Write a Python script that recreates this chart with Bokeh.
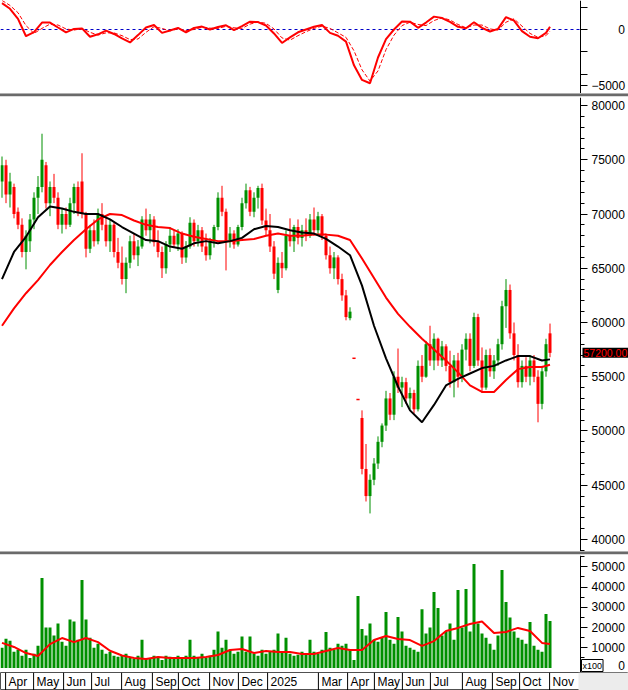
import numpy as np
from bokeh.plotting import figure
from bokeh.layouts import column
from bokeh.models import (Range1d, FixedTicker, Span, Div, Label, ColumnDataSource,
                          BoxAnnotation)
from bokeh.core.properties import value
from bokeh.embed import file_html
from bokeh.resources import INLINE

# ---------------- data ----------------
open_ = [73000, 74500, 71800, 72500, 70200, 69000, 66500, 67500, 69500, 71500,
         72500, 74500, 71000, 72500, 71500, 69000, 70000, 69000, 71000, 72500,
         73000, 70000, 66800, 68500, 67500, 70000, 69000, 67500, 69000, 66500,
         65500, 64000, 65500, 67500, 66200, 67000, 69500, 68500, 69500, 67400,
         66500, 65000, 67200, 68000, 67200, 68200, 66000, 67000, 69200, 67500,
         68500, 67000, 66200, 67500, 68800, 71500, 70200, 67500, 68200, 67200,
         68800, 71000, 72200, 70200, 71500, 72400, 69400, 68500, 67000, 63000,
         65500, 65000, 68000, 67500, 68800, 67800, 68500, 68000, 69500, 68500,
         69800, 68000, 66200, 65000, 66000, 64000, 62500, 60400, 56700, 52900,
         51200, 46500, 44000, 45500, 47000, 49000, 50500, 53000, 51500, 55000,
         54000, 54500, 53000, 53500, 52000, 56000, 55000, 58000, 56500, 58500,
         56500, 57800, 56000, 54500, 56500, 55000, 57500, 58500, 56000, 60500,
         56500, 54000, 57000, 55500, 56500, 58000, 61500, 63000, 59000, 57000,
         54500, 56000, 55000, 56500, 55000, 52500, 55500, 59000]
high = [75300, 75000, 73800, 72800, 70600, 69600, 68500, 70000, 72000, 73500,
        77400, 74800, 73000, 73700, 72000, 70500, 70600, 71500, 72800, 73000,
        75600, 70200, 69000, 69500, 70500, 71000, 69800, 69500, 69200, 67800,
        67000, 66000, 68000, 68200, 67600, 69800, 70500, 70000, 69800, 68500,
        67000, 67500, 68800, 68500, 68600, 68400, 67500, 69700, 69500, 69000,
        68800, 68200, 67800, 69000, 72000, 72600, 70500, 68800, 68500, 69000,
        71500, 72800, 72500, 72000, 72600, 72800, 70500, 70000, 67500, 66000,
        66500, 68500, 69600, 69000, 69500, 69000, 69600, 70000, 70600, 70200,
        70000, 68200, 67000, 66500, 66200, 64500, 63000, 61400, 56700, 52900,
        51900, 48800, 46000, 47500, 49500, 50700, 53700, 53500, 55500, 57600,
        55000, 54900, 54000, 53800, 56500, 57000, 58300, 59700, 59000, 58600,
        58300, 58000, 57400, 57000, 57200, 58000, 59000, 59000, 60900, 60800,
        57700, 57500, 57600, 57000, 58500, 62000, 64000, 63500, 60000, 58000,
        56500, 56800, 57000, 57000, 55600, 56000, 58500, 59900]
low = [71500, 71000, 70600, 69600, 68600, 66000, 64900, 66500, 68600, 70000,
       72000, 70500, 69800, 71000, 68600, 68200, 68600, 68800, 70000, 69800,
       69600, 66000, 66400, 67000, 67200, 68500, 67000, 66500, 66000, 65000,
       63500, 62700, 65000, 65800, 65200, 66800, 68000, 67300, 67000, 66000,
       64100, 64500, 66500, 66900, 66600, 65400, 65500, 66800, 67000, 67000,
       66500, 65700, 65800, 66900, 68500, 69800, 64800, 66900, 66800, 67000,
       68500, 70500, 69800, 69700, 70500, 69000, 68000, 66500, 64000, 62700,
       64100, 64800, 67000, 66500, 67200, 67000, 67500, 67800, 68000, 68000,
       67600, 65800, 64500, 64000, 63500, 62000, 60200, 60200, 56700, 52900,
       46000, 43500, 42400, 45000, 46500, 48500, 50000, 51000, 51000, 53500,
       52200, 52500, 52000, 51600, 51800, 54500, 54900, 56000, 55600, 56000,
       55900, 55500, 54000, 53100, 54000, 54500, 56500, 55500, 55800, 56000,
       53500, 53800, 55000, 54800, 56000, 57500, 59500, 58500, 56500, 54000,
       54000, 54500, 54200, 54500, 50800, 52000, 55000, 56800]
close_ = [74500, 71800, 73000, 70000, 69000, 66500, 68000, 69500, 71500, 72500,
          75000, 71000, 72500, 71500, 69000, 70000, 69000, 71000, 72500, 70200,
          70000, 66800, 68500, 67500, 70000, 69000, 67500, 69000, 66500, 65500,
          64000, 65500, 67500, 66200, 67000, 69500, 68500, 69500, 67400, 66500,
          65000, 67200, 68000, 67200, 68200, 66000, 67000, 69200, 67500, 68500,
          67000, 66200, 67500, 68800, 71500, 70200, 67500, 68200, 67200, 68800,
          71000, 72200, 70200, 71500, 72400, 69400, 68500, 67000, 64500, 65500,
          65000, 68000, 67500, 68800, 67800, 68500, 68000, 69500, 68500, 69800,
          68000, 66200, 65000, 66000, 64000, 62500, 60500, 61000, 56700, 52900,
          46500, 44000, 45500, 47000, 49000, 50500, 53000, 51500, 55000, 54000,
          54500, 53000, 53500, 52000, 56000, 55000, 58000, 56500, 58500, 56500,
          57800, 56000, 54500, 56500, 55000, 57500, 58500, 56000, 60500, 56500,
          54000, 57000, 55500, 56500, 58000, 61500, 63000, 59000, 57000, 54500,
          56000, 55000, 56500, 55000, 52500, 55500, 58000, 57200]
volume = [10000, 14500, 13500, 8000, 9000, 6000, 9000, 5000, 7000, 11000,
          44500, 20000, 20000, 16000, 22000, 13000, 11000, 24000, 23000, 14000,
          43500, 24000, 15000, 10000, 12000, 9000, 7000, 8000, 6000, 5500,
          6000, 7000, 5000, 4500, 6000, 14000, 4500, 5000, 6000, 5500,
          4000, 6000, 5500, 4500, 6000, 5000, 6000, 14000, 6000, 5000,
          7000, 5000, 6000, 9000, 18000, 10000, 14000, 9000, 7000, 8000,
          15500, 8000, 15500, 7000, 6000, 9000, 7000, 8000, 9000, 17000,
          8000, 15000, 7000, 6000, 6500, 8000, 7000, 14000, 8000, 7000,
          9000, 17800, 10000, 9000, 12000, 11000, 12000, 9000, 4000, 35600,
          19300, 16000, 22000, 14000, 13000, 15000, 27700, 14000, 12000, 25200,
          18000, 11000, 10000, 9000, 8000, 29000, 17000, 20000, 37500, 29600,
          16000, 18000, 22000, 14000, 38500, 20000, 39000, 18000, 51400, 22000,
          17000, 15000, 12000, 9000, 16000, 48400, 32600, 25000, 18000, 15000,
          14000, 12000, 22700, 11000, 9000, 8000, 26700, 23200]

# moving averages, sampled every third bar (and the last bar)
ma_idx = list(range(0, 136, 3)) + [137]
ma_fast = [64000, 66500, 67900, 69700, 70700, 70500, 70200, 70000, 70000, 69500,
           68800, 68200, 67600, 67500, 67000, 66800, 67300, 67500, 67300, 67500,
           67800, 68600, 68900, 68800, 68500, 68300, 68200, 67700, 67000, 66200,
           63400, 59700, 56700, 54100, 51900, 50800, 52400, 54200, 54800, 55300,
           55800, 56000, 56500, 56900, 56900, 56500, 56600]
ma_slow = [59700, 61300, 62700, 63900, 65300, 66500, 67600, 68600, 69500, 70000,
           69900, 69400, 69000, 68800, 68700, 68200, 67900, 67700, 67500, 67500,
           67600, 67700, 68000, 68200, 68000, 68000, 68100, 68100, 68000, 67600,
           65900, 64100, 62300, 60800, 59600, 58500, 57500, 56500, 55400, 54200,
           53600, 53600, 54700, 55700, 55900, 55900, 56100]
vol_ma = [12400, 10400, 7400, 5900, 11800, 14800, 12800, 14800, 12800, 8500,
          6200, 4900, 4400, 5400, 4900, 4900, 4900, 5400, 6400, 8900,
          9400, 7400, 8400, 7900, 7900, 6900, 6900, 8400, 9900, 8900,
          8900, 13800, 15800, 14300, 13800, 10900, 13300, 18300, 19800, 21700,
          23000, 17300, 17800, 19800, 18300, 12400, 11900]

# oscillator (top panel), sampled every second bar (and the last bar)
osc_idx = list(range(0, 137, 2)) + [137]
osc = [2350, 1850, 950, -600, -230, 620, 620, 180, -250, 50,
       100, -650, -430, -100, -400, -800, -1150, -500, 180, 400,
       -300, -90, 150, -250, 140, 260, 0, 220, 380, -50,
       310, 700, 660, 360, -350, -1200, -700, -250, 0, 240,
       400, -300, -560, -1080, -3200, -4500, -4800, -2500, -850, 0,
       710, 700, 150, 620, 1150, 1020, 680, 240, 110, 650,
       140, -180, 60, 1100, 800, -150, -650, -780, -300, 250]
osc_signal = [2600, 2150, 1500, 350, -350, 100, 480, 400, 50, -50,
              80, -250, -500, -300, -300, -550, -900, -850, -250, 250,
              100, -120, 50, -100, 0, 200, 120, 100, 280, 150,
              100, 480, 680, 550, 50, -750, -950, -550, -200, 100,
              300, 100, -300, -700, -1900, -3600, -4600, -3700, -1800, -500,
              350, 650, 450, 350, 800, 1050, 850, 450, 150, 400,
              400, 50, -50, 650, 950, 300, -350, -700, -550, -150]

month_labels = ["Apr", "May", "Jun", "Jul", "Aug", "Sep", "Oct", "Nov", "Dec", "2025",
                "Mar", "Apr", "May", "Jun", "Jul", "Aug", "Sep", "Oct", "Nov"]
month_start = [0.9, 7.9, 15.4, 22.4, 29.9, 37.6, 44.1, 51.9, 59.1, 66.4,
               79.1, 86.4, 93.1, 100.1, 107.1, 115.1, 122.6, 129.4, 136.9]

price_ticks = list(range(40000, 80001, 5000))
price_minor = list(range(39000, 81000, 1000))
osc_ticks = [2000, 0, -2000, -4000, -5000]
vol_ticks = list(range(0, 50001, 10000))
vol_minor = list(range(0, 55001, 5000))

# ---------------- styling ----------------
GREEN = "#009000"
RED = "#ff0000"
FONT = "Liberation Sans"
TOTAL_W = 628
PLOT_W = 580          # width of the drawing area left of the value axis
PX_PER_BAR = 4.0
X0 = -0.375
AXIS_X = X0 + PLOT_W / PX_PER_BAR

xr = Range1d(X0, X0 + TOTAL_W / PX_PER_BAR)


def make_fig(h, yr, axis=True):
    p = figure(frame_width=TOTAL_W, frame_height=h, x_range=xr, y_range=yr,
               toolbar_location=None, output_backend="svg",
               x_axis_location=None, y_axis_location=("right" if axis else None),
               min_border_left=0, min_border_right=0,
               min_border_top=0, min_border_bottom=0)
    p.grid.visible = False
    p.outline_line_color = None
    p.background_fill_color = "white"
    p.border_fill_color = "white"
    if axis:
        ax = p.yaxis[0]
        ax.fixed_location = AXIS_X
        ax.axis_line_color = "black"
        ax.major_tick_line_color = "black"
        ax.minor_tick_line_color = "black"
        ax.major_tick_in = 0
        ax.major_tick_out = 7
        ax.minor_tick_in = 0
        ax.minor_tick_out = 4
        ax.major_label_standoff = 4
        ax.major_label_text_font = FONT
        ax.major_label_text_font_size = "12px"
        ax.major_label_text_color = "black"
    return p


def sep():
    return Div(text="", width=TOTAL_W, height=4, margin=(0, 0, 0, 0),
               styles={"background": "linear-gradient(to bottom, #b0b0b0 0px, #b0b0b0 1px, "
                                     "#6a6a6a 1px, #6a6a6a 3px, #dcdcdc 3px, #dcdcdc 4px)"})


# ---------------- oscillator panel ----------------
op = make_fig(93, Range1d(-5714, 2590))
op.yaxis[0].ticker = FixedTicker(ticks=osc_ticks, minor_ticks=[])
op.yaxis[0].major_label_overrides = {2000: "", -2000: "", -4000: "",
                                     0: "\u2007\u2007\u2007\u20070"}
op.segment(x0=[X0], y0=[0], x1=[AXIS_X], y1=[0], line_color="#0000c8",
           line_dash="3 3", line_width=1)
op.line(osc_idx, osc_signal, line_color=RED, line_width=1, line_dash="4 2")
op.line(osc_idx, osc, line_color=RED, line_width=2)

# ---------------- price panel ----------------
pp = make_fig(454, Range1d(38890, 80740))
pp.yaxis[0].ticker = FixedTicker(ticks=price_ticks, minor_ticks=price_minor)

o = np.array(open_, dtype=float)
h = np.array(high, dtype=float)
l = np.array(low, dtype=float)
c = np.array(close_, dtype=float)
idx = np.arange(len(c))
doji = o == c
colors = np.where((c > o), GREEN, RED)
src = ColumnDataSource(dict(x=idx, h=h, l=l, top=np.maximum(o, c), bot=np.minimum(o, c),
                            color=colors))
pp.segment(x0="x", y0="l", x1="x", y1="h", line_color="color", line_width=1, source=src)
pp.vbar(x="x", width=0.75, top="top", bottom="bot", fill_color="color",
        line_color=None, source=src)
pp.segment(x0=idx[doji] - 0.4, y0=c[doji], x1=idx[doji] + 0.4, y1=c[doji],
           line_color=RED, line_width=1.5)
pp.line(ma_idx, ma_slow, line_color=RED, line_width=2)
pp.line(ma_idx, ma_fast, line_color="black", line_width=2)
pp.add_layout(Label(x=AXIS_X, x_offset=2, y=close_[-1],
                    text=f"{close_[-1]:.2f}", text_color=RED, text_font=FONT,
                    text_font_size="10.5px", text_baseline="middle",
                    background_fill_color="black", padding=1))

# ---------------- volume panel ----------------
vp = make_fig(117, Range1d(-2223, 55575))
vp.yaxis[0].ticker = FixedTicker(ticks=vol_ticks, minor_ticks=vol_minor)
vp.yaxis[0].major_label_overrides = {0: "\u2007\u2007\u2007\u20070"}
vp.vbar(x=idx, width=0.75, top=volume, bottom=0, fill_color=GREEN, line_color=None)
vp.line(ma_idx, vol_ma, line_color=RED, line_width=2)
vp.add_layout(Label(x=AXIS_X, x_offset=1, y=1, y_units="screen", text="x100",
                    text_font=FONT, text_font_size="9px", text_color="black",
                    border_line_color="black", background_fill_color="white", padding=1))

# ---------------- date strip ----------------
sp = make_fig(18, Range1d(0, 1), axis=False)
sp.outline_line_color = "#505050"
sp.add_layout(BoxAnnotation(left=AXIS_X - 0.5, fill_color="#ececec", fill_alpha=1.0,
                            line_color=None))
nm = len(month_start)
sp.segment(x0=month_start, y0=[0] * nm, x1=month_start, y1=[1] * nm,
           line_color="black", line_width=1)
sp.text(x=month_start, y=[0.5] * nm, text=month_labels, x_offset=3,
        text_baseline="middle", text_align="left", text_color="black",
        text_font=value(FONT), text_font_size="12px")

layout = column(op, sep(), pp, sep(), vp, sp, spacing=0)
open("out.html", "w").write(file_html(layout, INLINE))
